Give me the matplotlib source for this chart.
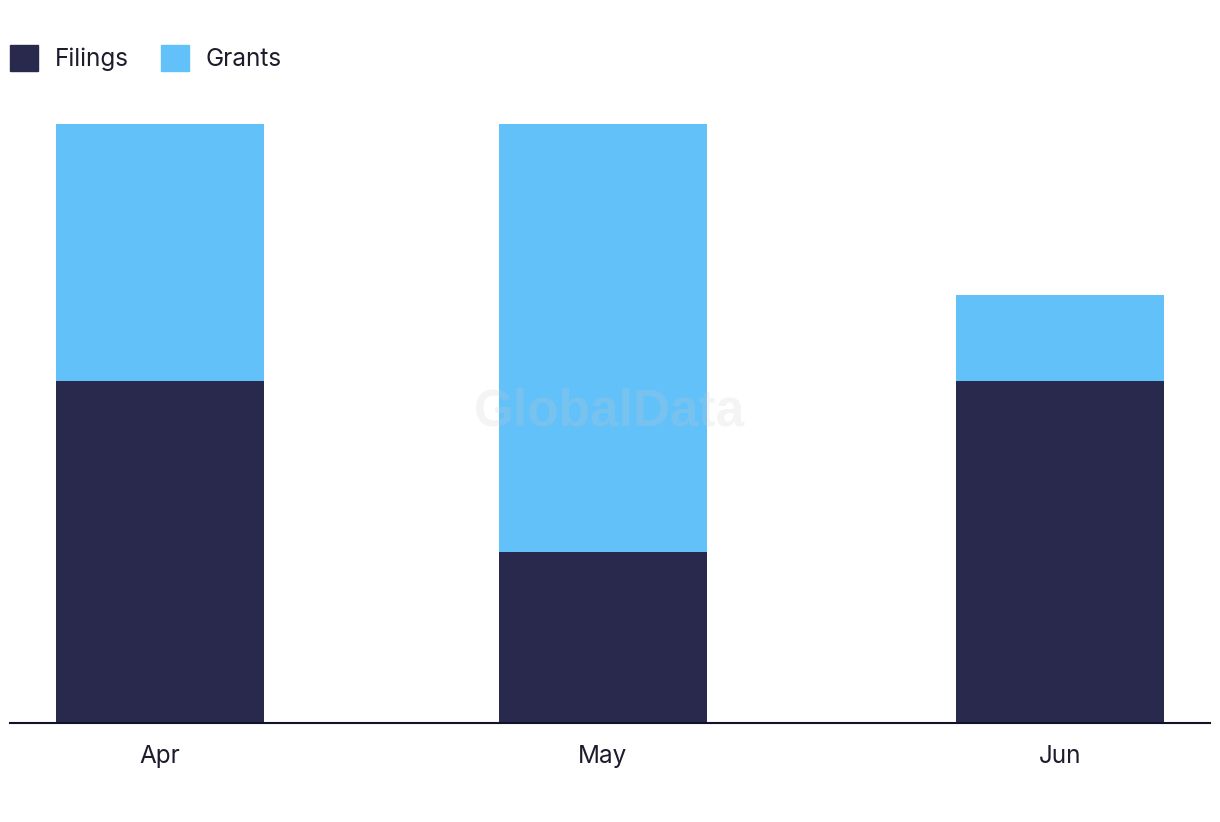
import matplotlib
matplotlib.use("Agg")
import matplotlib.pyplot as plt
import matplotlib.dates as mdates
from matplotlib.patches import Rectangle
import pandas as pd

months = ["2024-04-01", "2024-05-01", "2024-06-01"]
month_labels = ["Apr", "May", "Jun"]
filings = [4, 2, 4]
grants = [3, 5, 1]

DARK = "#28294c"
LIGHT = "#63c1f9"
TEXT = "#1c1c2c"

plt.rcParams["font.family"] = ["Inter", "DejaVu Sans"]

W, H = 1220, 822
fig = plt.figure(figsize=(W / 100, H / 100), dpi=100)
ax = fig.add_axes([10 / W, (H - 723) / H, 1200 / W, (723 - 124) / H])

dates = pd.to_datetime(months)
x = mdates.date2num(dates)
width = 14.1
ax.bar(x, filings, width=width, color=DARK, zorder=2)
ax.bar(x, grants, bottom=filings, width=width, color=LIGHT, zorder=2)

pad = 10.17
ax.set_xlim(x[0] - pad, x[-1] + pad)
ax.set_ylim(0, 7)

for s in ["top", "right", "left"]:
    ax.spines[s].set_visible(False)
ax.spines["bottom"].set_color("#12122a")
ax.spines["bottom"].set_linewidth(1.5)
ax.set_yticks([])
ax.set_xticks(x)
ax.set_xticklabels(month_labels, fontsize=17.5, color=TEXT)
ax.tick_params(axis="x", length=0, pad=16)

fig.text(0.5, 0.499, "GlobalData", fontsize=37, fontweight="bold",
         family=["Liberation Sans", "DejaVu Sans"], color="#c8c8c8", alpha=0.2,
         ha="center", va="center", zorder=5)

handles = [Rectangle((0, 0), 1, 1, color=DARK), Rectangle((0, 0), 1, 1, color=LIGHT)]
fig.legend(handles, ["Filings", "Grants"], loc="upper left",
           bbox_to_anchor=(10 / W, (H - 45) / H), frameon=False,
           fontsize=17.5, labelcolor=TEXT, ncol=2, handlelength=1.15,
           handleheight=1.3, handletextpad=0.7, columnspacing=1.3,
           borderaxespad=0, borderpad=0)

fig.savefig("out.png", dpi=100)
